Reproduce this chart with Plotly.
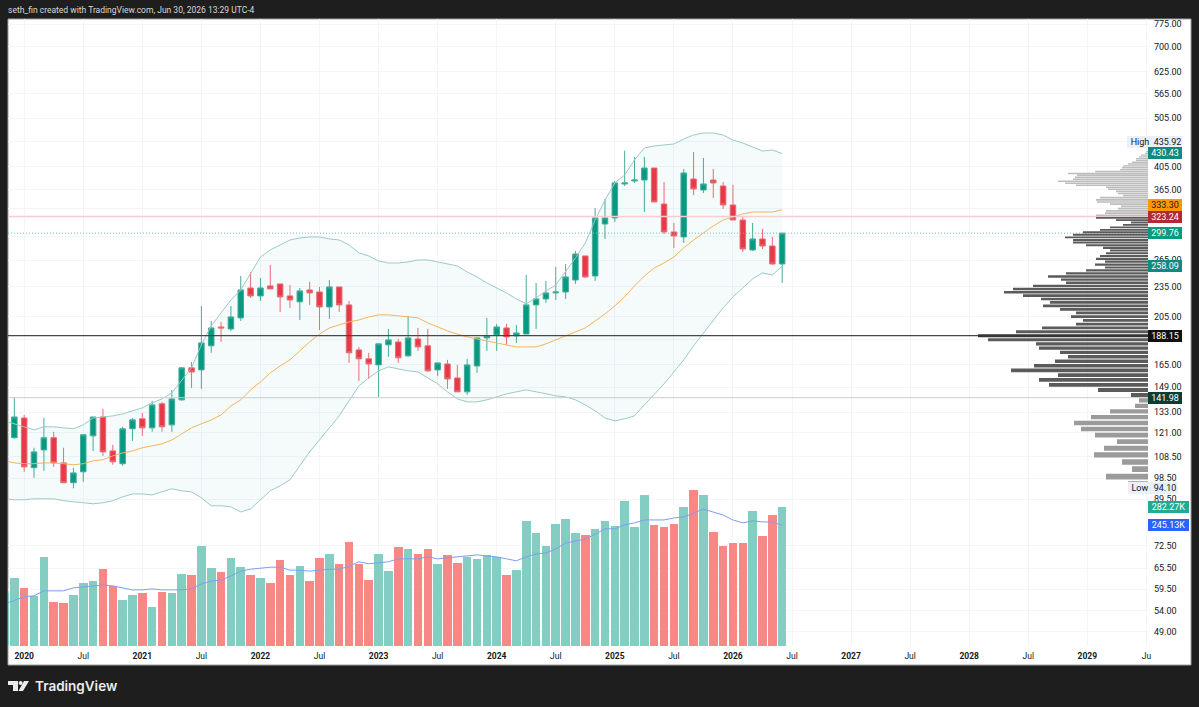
import math
import plotly.graph_objects as go

# Monthly candles, Nov 2019 to Jun 2026
first_year, first_month = 2019, 11
opens = [104.2, 118.4,
         129.5, 103.3, 112.0, 118.4, 105.6, 96.5, 101.4, 119.4, 130.1, 111.5, 105.2, 123.3,
         129.0, 123.8, 138.1, 125.5, 140.6, 162.6, 161.1, 179.7, 195.8, 194.0, 204.0, 233.7,
         225.4, 235.9, 238.0, 225.4, 219.4, 231.6, 229.5, 214.4, 234.8, 216.4, 176.4, 169.4,
         164.8, 180.5, 182.9, 171.7, 185.4, 179.7, 161.1, 165.5, 155.3, 145.8, 164.0, 186.3,
         188.8, 194.9, 188.0, 189.6, 216.4, 222.4, 228.5, 229.5, 242.3, 270.3, 246.8, 312.5,
         321.2, 374.8, 379.9, 381.6, 403.0, 342.2, 301.4, 294.6, 383.4, 364.7, 381.6, 371.4,
         340.7, 318.2, 277.7, 292.0, 282.8, 260.6]
highs = [122.7, 142.5,
         131.3, 113.1, 129.5, 121.6, 113.1, 103.3, 120.0, 130.1, 135.0, 114.6, 124.4, 129.5,
         132.5, 140.0, 139.3, 147.1, 163.3, 167.0, 215.4, 201.2, 200.3, 215.4, 246.8, 251.3,
         244.6, 259.4, 238.0, 236.9, 233.7, 240.2, 234.8, 242.3, 234.8, 220.4, 178.8, 174.1,
         181.3, 194.0, 185.4, 205.9, 194.9, 194.0, 166.3, 168.6, 164.8, 169.4, 186.3, 204.0,
         198.5, 198.5, 197.6, 247.9, 239.1, 241.3, 257.1, 260.6, 276.4, 270.3, 336.1, 350.1,
         379.9, 435.92, 423.6, 423.6, 403.0, 378.2, 314.0, 401.2, 433.3, 421.7, 401.2, 378.2,
         373.1, 324.1, 314.0, 305.5, 294.6, 299.76]
lows = [102.3, 117.8,
        101.4, 98.7, 101.9, 103.7, 96.5, 94.1, 96.9, 111.5, 109.0, 104.7, 104.2, 116.7,
        119.4, 121.6, 121.6, 121.6, 140.0, 148.4, 147.8, 174.1, 182.9, 192.2, 201.2, 223.4,
        220.4, 232.7, 209.6, 213.5, 202.1, 216.4, 193.1, 203.1, 209.6, 166.3, 153.2, 154.6,
        142.5, 171.0, 166.3, 171.0, 175.6, 159.6, 156.8, 147.8, 145.8, 143.8, 158.9, 175.6,
        175.6, 180.5, 182.1, 189.6, 194.0, 218.4, 221.3, 222.4, 238.0, 244.6, 241.3, 292.0,
        315.4, 371.4, 376.5, 330.0, 345.4, 298.7, 280.3, 286.7, 356.5, 359.8, 351.7, 334.6,
        318.2, 275.2, 276.4, 279.0, 259.4, 239.1]
closes = [118.9, 130.1,
          103.7, 111.0, 118.4, 105.6, 96.5, 100.9, 120.0, 130.1, 111.0, 106.1, 123.3, 128.4,
          123.8, 137.4, 124.4, 141.2, 162.6, 159.6, 182.1, 194.9, 194.9, 204.9, 231.6, 225.4,
          233.7, 232.7, 224.4, 221.3, 230.6, 228.5, 214.4, 234.8, 216.4, 174.1, 169.4, 165.5,
          181.3, 184.6, 170.2, 186.3, 178.8, 160.4, 166.3, 154.6, 145.8, 164.8, 186.3, 188.0,
          195.8, 187.1, 190.5, 216.4, 222.4, 228.5, 229.5, 245.7, 272.7, 245.7, 321.2, 321.2,
          376.5, 376.5, 381.6, 403.0, 345.4, 301.4, 296.0, 394.0, 366.4, 374.8, 376.5, 340.7,
          318.2, 279.0, 292.0, 282.8, 260.6, 299.76]

# Bollinger bands (20, 2)
bb_upper = [127.8, 126.1,
            124.4, 122.7, 124.4, 124.4, 123.8, 123.3, 125.5, 129.5, 130.1, 130.7, 131.9, 133.7,
            135.6, 138.7, 141.2, 145.1, 153.2, 162.6, 180.5, 196.7, 208.7, 221.3, 231.6, 250.2,
            269.0, 277.7, 284.1, 290.6, 293.3, 294.6, 294.6, 292.0, 290.6, 284.1, 274.0, 270.3,
            264.2, 261.8, 261.8, 263.0, 265.4, 265.4, 263.0, 260.6, 258.3, 251.3, 245.7, 239.1,
            233.7, 228.5, 222.4, 217.4, 223.4, 230.6, 236.9, 251.3, 267.8, 286.7, 318.2, 348.5,
            376.5, 390.4, 417.9, 441.3, 445.3, 447.4, 449.4, 459.7, 468.1, 472.4, 472.4, 468.1,
            457.6, 451.4, 443.3, 435.3, 437.3, 430.43]
bb_basis = [106.6, 105.6,
            105.2, 105.2, 105.6, 105.6, 105.2, 104.7, 105.2, 106.6, 107.1, 109.0, 110.5, 111.5,
            113.1, 114.1, 115.1, 117.2, 120.5, 123.8, 126.1, 128.4, 131.3, 136.8, 140.6, 147.1,
            152.5, 158.9, 164.0, 168.6, 175.6, 182.9, 189.6, 194.9, 197.6, 200.3, 202.1, 204.9,
            206.8, 206.8, 205.9, 204.9, 204.0, 199.4, 195.8, 192.2, 189.6, 187.1, 185.4, 183.8,
            182.1, 180.5, 178.8, 178.8, 178.8, 181.3, 184.6, 188.0, 191.4, 194.9, 201.2, 207.7,
            215.4, 224.4, 235.9, 246.8, 255.9, 261.8, 269.0, 280.3, 290.6, 300.0, 309.7, 318.2,
            322.6, 327.1, 330.0, 330.0, 330.0, 333.30]
bb_lower = [89.7, 89.3,
            89.3, 89.7, 89.7, 89.7, 88.9, 88.5, 88.1, 87.7, 88.1, 88.9, 90.5, 91.7,
            91.7, 91.3, 92.6, 93.9, 93.0, 92.6, 90.1, 86.9, 86.9, 86.5, 84.5, 85.7,
            89.3, 93.0, 95.2, 97.8, 104.2, 111.0, 117.2, 123.8, 130.7, 140.0, 149.8, 155.3,
            160.4, 163.3, 161.8, 160.4, 159.6, 155.3, 151.2, 145.8, 141.2, 139.3, 139.3, 140.6,
            142.5, 144.5, 145.8, 147.1, 145.8, 144.5, 143.2, 142.5, 140.6, 137.4, 133.7, 129.5,
            127.8, 129.0, 130.7, 137.4, 143.8, 151.2, 159.6, 168.6, 179.7, 190.5, 202.1, 213.5,
            224.4, 233.7, 243.5, 250.2, 247.9, 258.09]

# Volume in thousands and its moving average
volumes = [108, 138,
           118, 102, 181, 90, 88, 104, 127, 131, 156, 122, 93, 104,
           108, 79, 110, 108, 146, 144, 204, 158, 150, 179, 160, 145,
           139, 128, 175, 145, 163, 131, 179, 187, 167, 212, 166, 135,
           187, 152, 201, 197, 187, 197, 166, 185, 169, 181, 177, 184,
           181, 144, 154, 253, 230, 204, 248, 257, 230, 225, 237, 254,
           243, 294, 242, 307, 246, 242, 248, 282, 317, 306, 231, 204,
           209, 209, 275, 223, 267, 282.27]
volume_ma = [85, 93,
             100, 102, 112, 112, 112, 118, 120, 122, 124, 122, 118, 114,
             114, 116, 114, 114, 114, 116, 126, 132, 134, 142, 152, 156,
             158, 160, 160, 154, 154, 152, 154, 156, 156, 162, 171, 167,
             169, 171, 177, 177, 177, 181, 177, 179, 181, 183, 185, 183,
             181, 177, 173, 181, 187, 189, 197, 209, 213, 217, 227, 238,
             238, 246, 250, 256, 256, 256, 260, 262, 270, 278, 272, 266,
             256, 250, 254, 252, 252, 245.13]

# Visible-range volume profile, 100 equal price rows from the high down to the low
profile_high, profile_low = 435.92, 94.10
profile_rows = [2, 3, 7, 9, 12, 12, 16, 20, 25, 26,
                28, 53, 80, 71, 73, 75, 90, 83, 72, 42,
                40, 32, 30, 25, 48, 52, 51, 38, 27, 30,
                42, 43, 52, 52, 32, 17, 25, 38, 48, 65,
                75, 83, 75, 75, 62, 45, 38, 42, 48, 52,
                43, 53, 43, 62, 82, 100, 87, 82, 115, 135,
                144, 125, 107, 98, 105, 88, 72, 77, 65, 72,
                106, 132, 170, 160, 112, 109, 88, 80, 93, 114,
                137, 90, 109, 99, 50, 17, 9, 13, 38, 57,
                74, 67, 53, 31, 44, 54, 26, 16, 42, 20]
value_area_high, point_of_control, value_area_low = 323.24, 188.15, 141.98
last_price = 299.76

# Gridline levels; only the labelled ones carry text on the price scale
price_grid = [775, 700, 625, 565, 505, 455, 405, 365, 335, 295, 265, 235, 205, 185,
              165, 149, 133, 121, 108.5, 98.5, 89.5, 72.5, 65.5, 59.5, 54, 49]
price_labels = ["775.00", "700.00", "625.00", "565.00", "505.00", "", "405.00", "365.00", "", "",
                "265.00", "235.00", "205.00", "", "165.00", "149.00", "133.00", "121.00",
                "108.50", "98.50", "89.50", "72.50", "65.50", "59.50", "54.00", "49.00"]
date_ticks = ["2020", "Jul", "2021", "Jul", "2022", "Jul", "2023", "Jul", "2024", "Jul",
              "2025", "Jul", "2026", "Jul", "2027", "Jul", "2028", "Jul", "2029", "Ju"]

W, H = 1199, 707
LEFT, RIGHT, TOP, BOTTOM = 8, 1148, 19, 646
BAR_STEP = 9.844         # horizontal pixels per month
FIRST_BAR_X = 4.5        # pixel centre of the first candle
PX_PER_DECADE = 507.0    # pixels per factor of ten on the log price scale
PRICE_AT_24 = 775.0

GREEN, RED = "#089981", "#f23645"
WICK_GREEN, WICK_RED = "#45ad9b", "#f46a76"
VOL_GREEN, VOL_RED = "#84cdc3", "#f78886"
TEXT = "#131722"
FONT = "Roboto"

months = []
y_, m_ = first_year, first_month
for _ in closes:
    months.append(f"{y_}-{m_:02d}")
    m_ += 1
    if m_ > 12:
        y_, m_ = y_ + 1, 1
index = list(range(len(closes)))

x_min = (LEFT - FIRST_BAR_X) / BAR_STEP
x_max = (RIGHT - FIRST_BAR_X) / BAR_STEP
log_top = math.log10(PRICE_AT_24) + (24 - TOP) / PX_PER_DECADE
log_bottom = math.log10(PRICE_AT_24) - (BOTTOM - 24) / PX_PER_DECADE
vol_per_px = 282.27 / 139.0


def fx(px):
    return px / W


def fy(px):
    return 1 - px / H


fig = go.Figure()

# Bollinger band channel
fig.add_trace(go.Scatter(x=index, y=bb_lower, mode="lines", line=dict(color="#9ccbc5", width=1),
                         hoverinfo="skip", showlegend=False))
fig.add_trace(go.Scatter(x=index, y=bb_upper, mode="lines", line=dict(color="#9ccbc5", width=1),
                         fill="tonexty", fillcolor="rgba(8,153,129,0.045)",
                         hoverinfo="skip", showlegend=False))
fig.add_trace(go.Scatter(x=index, y=bb_basis, mode="lines", line=dict(color="#f4b35f", width=1),
                         hoverinfo="skip", showlegend=False))

# Value-area and last-price lines
for level, color, width, dash in [
    (value_area_high, "#f8ccd0", 1.5, "solid"),
    (value_area_low, "#c8cecc", 1, "solid"),
    (last_price, "#6cc0b2", 1, "1px,2px"),
    (point_of_control, "#484848", 1.3, "solid"),
]:
    fig.add_trace(go.Scatter(x=[x_min, x_max], y=[level, level], mode="lines",
                             line=dict(color=color, width=width, dash=dash),
                             hoverinfo="skip", showlegend=False))

fig.add_trace(go.Candlestick(
    x=index, open=opens, high=highs, low=lows, close=closes, text=months,
    increasing=dict(line=dict(color=WICK_GREEN, width=1), fillcolor=GREEN),
    decreasing=dict(line=dict(color=WICK_RED, width=1), fillcolor=RED),
    whiskerwidth=0, showlegend=False,
))

# Volume pane shares the plot area on its own linear axis
fig.add_trace(go.Bar(x=index, y=volumes, yaxis="y2", width=0.87,
                     marker=dict(color=[VOL_GREEN if c >= o else VOL_RED for o, c in zip(opens, closes)],
                                 line=dict(width=0)),
                     hoverinfo="skip", showlegend=False))
fig.add_trace(go.Scatter(x=index, y=volume_ma, yaxis="y2", mode="lines",
                         line=dict(color="#7f9df0", width=1), hoverinfo="skip", showlegend=False))

# Volume profile rows, grouped by their colour zone
row_step = (profile_high - profile_low) / len(profile_rows)
zones = {"#bcbcbc": ([], []), "#5b5b5b": ([], []), "#9b9b9b": ([], []), "#353535": ([], [])}
for i, amount in enumerate(profile_rows):
    mid = profile_high - row_step * (i + 0.5)
    top, bottom = mid + row_step * 0.38, mid - row_step * 0.38
    if abs(mid - point_of_control) < row_step / 2:
        key = "#353535"
    elif mid > value_area_high:
        key = "#bcbcbc"
    elif mid > value_area_low:
        key = "#5b5b5b"
    else:
        key = "#9b9b9b"
    zones[key][0].extend([0, amount, amount, 0, 0, None])
    zones[key][1].extend([bottom, bottom, top, top, bottom, None])
for color, (xs, ys) in zones.items():
    fig.add_trace(go.Scatter(x=xs, y=ys, xaxis="x2", mode="lines", fill="toself", fillcolor=color,
                             line=dict(width=0), hoverinfo="skip", showlegend=False))

x_tick_positions = [2 + 6 * i for i in range(len(date_ticks))]
x_tick_text = [f"<b>{t}</b>" if t[0] == "2" else t for t in date_ticks]

fig.update_layout(
    width=W, height=H, margin=dict(l=0, r=0, t=0, b=0, autoexpand=False),
    paper_bgcolor="#1e1e1e", plot_bgcolor="rgba(0,0,0,0)",
    font=dict(family=FONT, size=9, color=TEXT),
    boxgap=0.2, bargap=0, hovermode=False, dragmode=False,
    xaxis=dict(domain=[fx(LEFT), fx(RIGHT)], range=[x_min, x_max],
               rangeslider=dict(visible=False),
               tickmode="array", tickvals=x_tick_positions, ticktext=x_tick_text,
               showgrid=True, gridcolor="#f4f5f7", gridwidth=1, zeroline=False, showline=False,
               ticks="", ticklabelstandoff=3, tickfont=dict(family=FONT, size=8.5, color=TEXT)),
    xaxis2=dict(overlaying="x", anchor="y", domain=[fx(LEFT), fx(RIGHT)], range=[1140, 0],
                visible=False, showgrid=False),
    yaxis=dict(domain=[fy(BOTTOM), fy(TOP)], type="log", range=[log_bottom, log_top], side="right",
               tickmode="array", tickvals=price_grid, ticktext=price_labels,
               showgrid=True, gridcolor="#f4f5f7", gridwidth=1, zeroline=False, showline=False,
               ticks="", ticklabelstandoff=5, tickfont=dict(family=FONT, size=9, color=TEXT)),
    yaxis2=dict(overlaying="y", anchor="x", side="left", range=[0, (BOTTOM - TOP) * vol_per_px],
                visible=False, showgrid=False),
)

# White chart card and its thin edge, laid under the gridlines
shapes = [dict(type="rect", xref="paper", yref="paper", layer="below",
               x0=fx(8), x1=fx(1191), y0=fy(665), y1=fy(19),
               fillcolor="#ffffff", line=dict(color="#a0a0a0", width=1))]


def logo_path(points):
    return "M " + " L ".join(f"{fx(px):.5f} {fy(py):.5f}" for px, py in points) + " Z"


# Brand mark in the footer
for pts in ([(8, 681), (18, 681), (18, 691), (13, 691), (13, 685), (8, 685)],
            [(24, 681), (29, 681), (23, 691), (18.5, 691)]):
    shapes.append(dict(type="path", xref="paper", yref="paper", path=logo_path(pts),
                       fillcolor="#ececec", line=dict(width=0)))
shapes.append(dict(type="circle", xref="paper", yref="paper", x0=fx(18.6), x1=fx(22.6),
                   y0=fy(685), y1=fy(681), fillcolor="#ececec", line=dict(width=0)))
fig.update_layout(shapes=shapes)


def price_pos(value):
    return math.log10(value)


def tag(text, y, yref, bg, fg, left=1148, right=1182, yshift=0, h=12):
    fig.add_annotation(text=text, xref="paper", x=fx((left + right) / 2), xanchor="center",
                       yref=yref, y=y, yanchor="middle", yshift=yshift, showarrow=False,
                       width=right - left, height=h, bgcolor=bg, borderpad=0, borderwidth=0,
                       align="center", font=dict(family=FONT, size=9, color=fg))


PALE = "#e9f0fa"
tag("High", price_pos(435.92), "y", PALE, TEXT, left=1127, right=1153, yshift=9)
tag("435.92", price_pos(435.92), "y", PALE, TEXT, left=1153, right=1182, yshift=9)
tag("430.43", price_pos(430.43), "y", "#0e8a80", "#ffffff")
tag("333.30", price_pos(333.30), "y", "#ff9800", TEXT, yshift=5)
tag("323.24", price_pos(323.24), "y", "#b22833", "#ffffff")
tag("299.76", price_pos(last_price), "y", GREEN, "#ffffff")
tag("258.09", price_pos(258.09), "y", "#0e8a80", "#ffffff")
tag("188.15", price_pos(point_of_control), "y", "#111111", "#ffffff")
tag("141.98", price_pos(value_area_low), "y", "#0b3d33", "#ffffff")
tag("Low", price_pos(94.10), "y", PALE, TEXT, left=1128, right=1152)
tag("94.10", price_pos(94.10), "y", PALE, TEXT, left=1152, right=1178)
tag("282.27K", 282.27, "y2", "#22ab94", "#ffffff", right=1189)
tag("245.13K", 245.13, "y2", "#2962ff", "#ffffff", right=1189)

fig.add_annotation(text="seth_fin created with TradingView.com, Jun 30, 2026 13:29 UTC-4",
                   xref="paper", yref="paper", x=fx(6), y=fy(10), xanchor="left", yanchor="middle",
                   showarrow=False, font=dict(family=FONT, size=8.5, color="#d8d8d8"))
fig.add_annotation(text="TradingView", xref="paper", yref="paper", x=fx(33), y=fy(686),
                   xanchor="left", yanchor="middle", showarrow=False,
                   font=dict(family="Inter", size=13.5, color="#ececec", weight=600))

fig.write_html("out.html", config=dict(displayModeBar=False, responsive=False))
